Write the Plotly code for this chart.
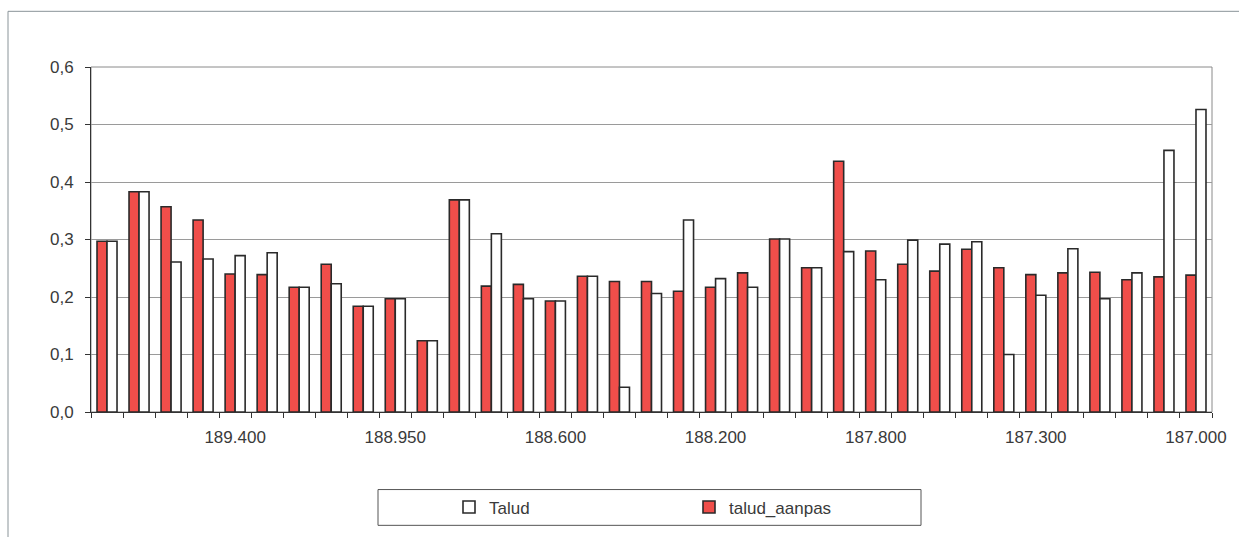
import plotly.graph_objects as go

# 35 chainage sections; only every fifth one carries a label on the axis
n_sections = 35
label_index = [4, 9, 14, 19, 24, 29, 34]
label_text = ["189.400", "188.950", "188.600", "188.200", "187.800", "187.300", "187.000"]

talud_aanpas = [0.297, 0.383, 0.357, 0.334, 0.240, 0.239, 0.217, 0.257, 0.184, 0.197,
                0.124, 0.369, 0.219, 0.222, 0.193, 0.236, 0.227, 0.227, 0.210, 0.217,
                0.242, 0.301, 0.251, 0.436, 0.280, 0.257, 0.245, 0.283, 0.251, 0.239,
                0.242, 0.243, 0.230, 0.235, 0.238]
talud = [0.297, 0.383, 0.261, 0.266, 0.272, 0.277, 0.217, 0.223, 0.184, 0.197,
         0.124, 0.369, 0.310, 0.197, 0.193, 0.236, 0.043, 0.206, 0.334, 0.232,
         0.217, 0.301, 0.251, 0.279, 0.230, 0.299, 0.292, 0.296, 0.100, 0.203,
         0.284, 0.197, 0.242, 0.455, 0.526]

x = list(range(n_sections))
FONT = "Liberation Sans, Arial, sans-serif"

W, H = 1239, 537
L, T, R, B = 91, 67, W - 1212, H - 414
pw, ph = W - L - R, H - T - B


def px_x(p):  # page pixel -> paper x
    return (p - L) / pw


def px_y(p):  # page pixel -> paper y
    return (H - B - p) / ph


fig = go.Figure()
fig.add_trace(go.Bar(
    x=x, y=talud_aanpas, name="talud_aanpas",
    marker=dict(color="#F04E4A", line=dict(color="#2a2a2a", width=1.6)),
))
fig.add_trace(go.Bar(
    x=x, y=talud, name="Talud",
    marker=dict(color="#FFFFFF", line=dict(color="#2a2a2a", width=1.6)),
))

# outer chart frame and legend box
fig.add_shape(type="rect", xref="paper", yref="paper",
              x0=px_x(8), x1=px_x(1260), y0=px_y(560), y1=px_y(11),
              line=dict(color="#8a9499", width=1), layer="below")
fig.add_shape(type="rect", xref="paper", yref="paper",
              x0=px_x(378), x1=px_x(921), y0=px_y(528), y1=px_y(492),
              line=dict(color="#555555", width=1), layer="below")
# grey frame on the top and right of the plot area
fig.add_shape(type="rect", xref="paper", yref="paper", x0=0, x1=1, y0=0, y1=1,
              line=dict(color="#8a8a8a", width=1), layer="below")

fig.update_layout(
    width=W, height=H,
    margin=dict(l=L, r=R, t=T, b=B),
    paper_bgcolor="white", plot_bgcolor="white",
    barmode="group", bargap=0.375, bargroupgap=0,
    font=dict(family=FONT, size=17, color="#3a3a3a"),
    showlegend=True,
    legend=dict(orientation="h", x=px_x(449), xanchor="left",
                y=px_y(510), yanchor="middle",
                traceorder="reversed", entrywidth=195,
                bgcolor="rgba(0,0,0,0)", borderwidth=0,
                font=dict(family=FONT, size=17, color="#3a3a3a")),
    xaxis=dict(
        range=[-0.5, n_sections - 0.5],
        tickmode="array", tickvals=label_index, ticktext=label_text,
        ticks="", ticklabelstandoff=10,
        showgrid=False, zeroline=False,
        showline=True, linecolor="#333333", linewidth=1,
        minor=dict(tickmode="array",
                   tickvals=[i - 0.5 for i in range(n_sections + 1)],
                   ticks="outside", ticklen=5, tickcolor="#333333", showgrid=False),
    ),
    yaxis=dict(
        range=[0, 0.6], tickmode="array",
        tickvals=[0, 0.1, 0.2, 0.3, 0.4, 0.5, 0.6],
        ticktext=["0,0", "0,1", "0,2", "0,3", "0,4", "0,5", "0,6"],
        ticks="outside", ticklen=5, tickcolor="#333333", ticklabelstandoff=8,
        showgrid=True, gridcolor="#9a9a9a", gridwidth=1,
        zeroline=False, showline=True, linecolor="#333333", linewidth=1,
    ),
)

# drop the default page margin so the figure sits exactly in the window
fig.write_html("out.html", config={"displayModeBar": False}, post_script=(
    "document.body.style.margin='0';"
    "document.body.style.overflow='hidden';"
    "document.documentElement.style.overflow='hidden';"
))
